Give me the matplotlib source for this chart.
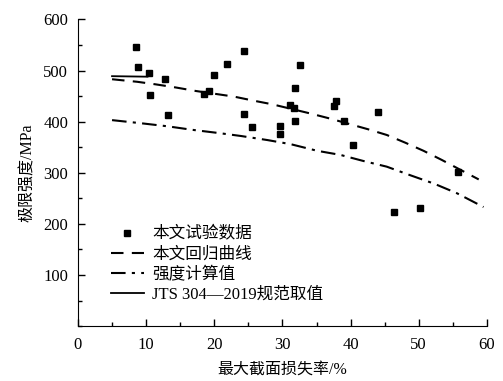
import matplotlib
matplotlib.use("Agg")
import matplotlib.pyplot as plt
from matplotlib.ticker import MultipleLocator

plt.rcParams['font.family'] = ['Liberation Serif', 'Noto Sans CJK SC']
plt.rcParams['axes.unicode_minus'] = False

# test data (max section loss ratio %, ultimate strength MPa)
test_x = [8.5, 8.8, 10.4, 10.6, 12.7, 13.2, 18.5, 19.2, 20.0, 21.9, 24.4, 24.4,
          25.6, 29.6, 29.6, 31.1, 31.7, 31.9, 32.6, 31.8, 37.8, 37.6, 39.1, 40.3,
          44.0, 46.3, 50.2, 55.7]
test_y = [547, 507, 496, 452, 484, 413, 455, 460, 491, 512, 538, 415,
          389, 391, 375, 432, 426, 465, 511, 401, 441, 430, 402, 354,
          418, 224, 232, 301]

# regression curve
reg_x = [5.0, 8.7, 11.4, 14.3, 17.3, 22.9, 25.8, 28.5, 34.1, 37.0, 42.6, 45.3,
         48.0, 50.7, 53.4, 55.8, 58.8]
reg_y = [483, 478, 473, 467, 460, 449, 441, 434, 416, 406, 385, 374,
         359, 343, 325, 308, 287]

# calculated strength
calc_x = [5.0, 9.2, 13.1, 16.8, 20.5, 23.9, 27.8, 31.2, 35.1, 38.5, 41.9, 45.3,
          48.8, 52.2, 55.6, 59.5]
calc_y = [403, 397, 391, 384, 378, 372, 364, 356, 343, 335, 323, 312,
          295, 279, 260, 233]

# JTS 304-2019 code value
jts_x = [5.0, 10.2]
jts_y = [489, 488]

labels = ['本文试验数据', '本文回归曲线', '强度计算值', 'JTS 304—2019规范取值']

fig = plt.figure(figsize=(5.03, 3.81), dpi=100)
ax = fig.add_axes([0.155, 0.144, 0.813, 0.805])

ax.plot(test_x, test_y, linestyle='none', marker='s', markersize=5,
        color='black', label=labels[0])
ax.plot(reg_x, reg_y, color='black', linewidth=1.5, dashes=(6, 4),
        label=labels[1])
ax.plot(calc_x, calc_y, color='black', linewidth=1.5, dashes=(7, 3, 1.5, 3),
        label=labels[2])
ax.plot(jts_x, jts_y, color='black', linewidth=1.3, label=labels[3])

ax.set_xlim(0, 60)
ax.set_ylim(0, 600)
ax.xaxis.set_major_locator(MultipleLocator(10))
ax.xaxis.set_minor_locator(MultipleLocator(5))
ax.set_yticks([100, 200, 300, 400, 500, 600])
ax.yaxis.set_minor_locator(MultipleLocator(50))
ax.tick_params(which='both', direction='in', labelsize=12, width=1)
ax.tick_params(which='major', length=5)
ax.tick_params(which='minor', length=3)
ax.tick_params(axis='x', pad=8)
ax.tick_params(axis='y', pad=7)
ax.spines['top'].set_visible(False)
ax.spines['right'].set_visible(False)

ax.set_xlabel('最大截面损失率/%', fontsize=11.5, labelpad=6)
ax.set_ylabel('极限强度/MPa', fontsize=11.5, labelpad=5)

leg = ax.legend(loc='lower left', bbox_to_anchor=(0.08, 0.075), frameon=False,
                fontsize=12, handlelength=2.0, handletextpad=0.5,
                labelspacing=0.25, borderpad=0, borderaxespad=0)

fig.savefig('out.png', dpi=100)
